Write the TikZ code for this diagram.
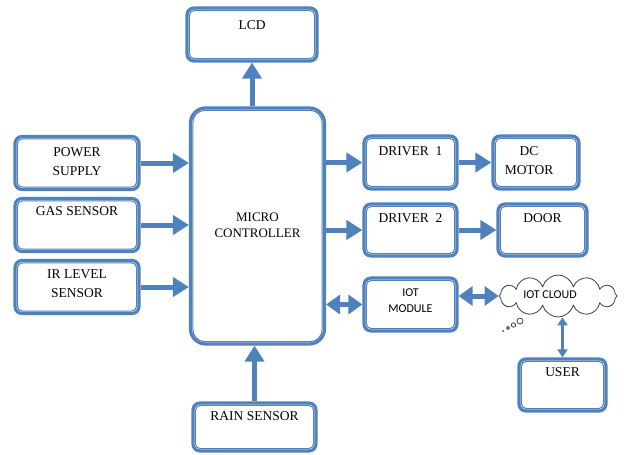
\documentclass[tikz,border=0pt]{standalone}
\usepackage{fontspec}
\setmainfont{Liberation Serif}
\newfontfamily\serfont{Liberation Serif}
\newfontfamily\iotfont{Carlito}
\usetikzlibrary{positioning,arrows.meta,shapes.symbols}
\definecolor{boxblue}{RGB}{79,129,189}
\tikzset{
  blk/.style={draw=boxblue, line width=3.2pt, rounded corners=7pt, fill=white},
  inner/.style={draw=boxblue, line width=1pt, rounded corners=5pt},
  txt/.style={font=\serfont\fontsize{13.5}{19}\selectfont, align=center, inner sep=0pt},
  iottxt/.style={font=\iotfont\fontsize{12}{16}\selectfont, align=center, inner sep=0pt},
  flow/.style={draw=boxblue, line width=5pt, -{Triangle[length=16pt,width=19pt]}},
  both/.style={draw=boxblue, line width=5pt, {Triangle[length=14pt,width=19pt]}-{Triangle[length=14pt,width=19pt]}},
  thin both/.style={draw=boxblue, line width=2.2pt, {Triangle[length=8pt,width=10pt]}-{Triangle[length=8pt,width=10pt]}},
}
\begin{document}
\begin{tikzpicture}[x=1pt,y=-1pt]
  \useasboundingbox (0,0) rectangle (624,455);

  % blocks
  \node[blk, minimum width=130pt, minimum height=53pt] (lcd) at (252,34.5) {};
  \node[blk, minimum width=134pt, minimum height=236pt, rounded corners=15pt] (micro) at (257.5,226) {};
  \node[blk, minimum width=124pt, minimum height=53pt] (power) at (77,163) {};
  \node[blk, minimum width=124pt, minimum height=53pt] (gas) at (77,225) {};
  \node[blk, minimum width=124pt, minimum height=53pt] (irlevel) at (77,287) {};
  \node[blk, minimum width=93pt, minimum height=53pt] (driver1) at (410.5,162.5) {};
  \node[blk, minimum width=86pt, minimum height=53pt] (motor) at (536,162.5) {};
  \node[blk, minimum width=93pt, minimum height=52pt] (driver2) at (410.5,230) {};
  \node[blk, minimum width=89pt, minimum height=52pt] (door) at (542.5,230) {};
  \node[blk, minimum width=93pt, minimum height=53pt] (iotmod) at (410.5,304.5) {};
  \node[blk, minimum width=87pt, minimum height=52pt] (user) at (562.5,385) {};
  \node[blk, minimum width=123pt, minimum height=48pt] (rain) at (254.5,427) {};

  % inner lines
  \foreach \n in {lcd,power,gas,irlevel,driver1,motor,driver2,door,iotmod,user,rain}
    \draw[inner] ([shift={(4pt,4pt)}]\n.south west) rectangle ([shift={(-4pt,-4pt)}]\n.north east);
  \draw[inner, rounded corners=12pt] ([shift={(4pt,4pt)}]micro.south west) rectangle ([shift={(-4pt,-4pt)}]micro.north east);

  % texts
  \node[txt, below=14pt of lcd.north] (lcdtxt) {LCD};
  \node[txt, font=\serfont\fontsize{13}{16}\selectfont] (microtxt) at (257.5,225) {MICRO\\CONTROLLER};
  \node[txt, below=12pt of power.north] (powertxt) {POWER\\SUPPLY};
  \node[txt, below=9pt of gas.north] (gastxt) {GAS SENSOR};
  \node[txt, below=11pt of irlevel.north] (irtxt) {IR LEVEL\\SENSOR};
  \node[txt, below=12pt of driver1.north] (driver1txt) {DRIVER \ 1};
  \node[txt, below=12pt of motor.north, xshift=-7pt] (motortxt) {DC\\MOTOR};
  \node[txt, below=11pt of driver2.north] (driver2txt) {DRIVER \ 2};
  \node[txt, below=11pt of door.north] (doortxt) {DOOR};
  \node[iottxt, below=12pt of iotmod.north] (iotmodtxt) {IOT\\MODULE};
  \node[txt, below=10pt of user.north] (usertxt) {USER};
  \node[txt, below=10pt of rain.north] (raintxt) {RAIN SENSOR};

  % cloud
  \node[cloud, cloud puffs=12, aspect=2.7, draw=black!75, line width=0.8pt, fill=white,
        minimum width=118pt, minimum height=42pt, inner sep=0pt] (cloud) at (558,296) {};
  \node[iottxt] (cloudtxt) at (550,295) {IOT CLOUD};
  \draw[black!75, line width=0.8pt] (520,321) circle[radius=3] (513.5,325) circle[radius=2.2]
    (508,328) circle[radius=1.5];
  \fill[black!75] (503,331) circle[radius=1];

  % connectors
  \draw[flow] (micro.north -| lcd.south) -- (lcd.south);
  \draw[flow] (power.east) -- (power.east -| micro.west);
  \draw[flow] (gas.east) -- (gas.east -| micro.west);
  \draw[flow] (irlevel.east) -- (irlevel.east -| micro.west);
  \draw[flow] (driver1.west -| micro.east) -- (driver1.west);
  \draw[flow] (driver2.west -| micro.east) -- (driver2.west);
  \draw[flow] (driver1.east) -- (driver1.east -| motor.west);
  \draw[flow] (driver2.east) -- (driver2.east -| door.west);
  \draw[both] (iotmod.west -| micro.east) -- (iotmod.west);
  \draw[both] (iotmod.east |- cloud.west) -- (cloud.west);
  \draw[thin both] (cloud.south -| user.north) -- (user.north);
  \draw[flow] (rain.north) -- (rain.north |- micro.south);
\end{tikzpicture}
\end{document}
